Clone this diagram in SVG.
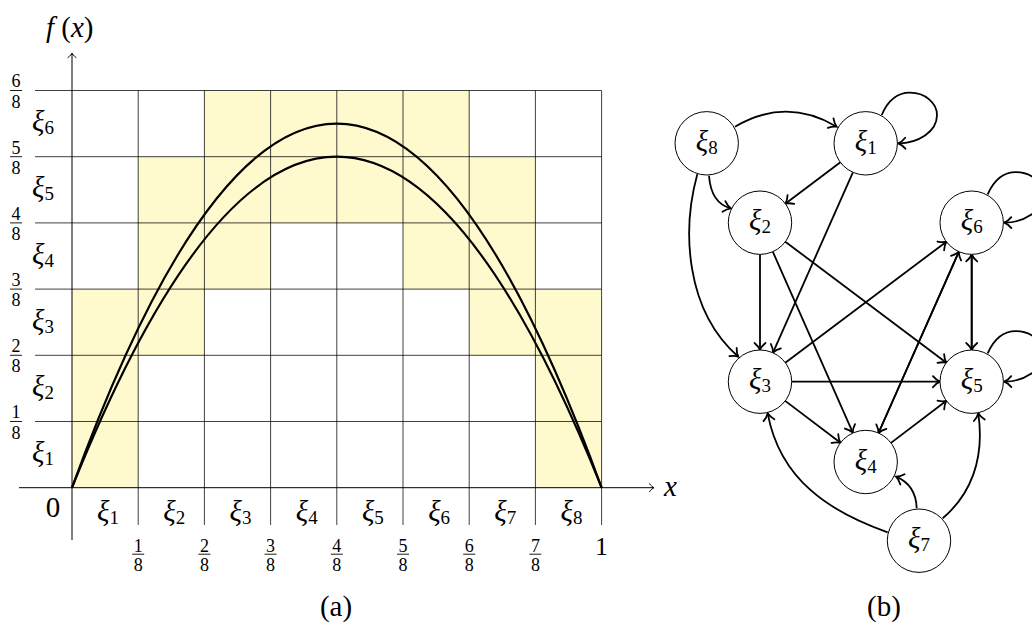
<svg xmlns="http://www.w3.org/2000/svg" width="1032" height="624" viewBox="0 0 1032 624">
<style>
text{font-family:"Liberation Serif","DejaVu Serif",serif;fill:#000}
.it{font-style:italic}
.m{font-size:29px}
.s{font-size:19px;font-style:normal}
.fr{font-size:18px;text-anchor:middle}
.cell{fill:#fffacd;stroke:none}
.grid{stroke:#000;stroke-opacity:0.75;stroke-width:1;fill:none}
.ax{stroke:#000;stroke-width:1;fill:none}
.curve{stroke:#000;stroke-width:2.2;fill:none;stroke-linejoin:round}
.bar{stroke:#000;stroke-width:0.9}
.node circle{fill:#fff;stroke:#000;stroke-width:1}
.node text{text-anchor:middle}
.e{stroke:#000;stroke-width:1.8;fill:none;marker-end:url(#ar)}
</style>
<defs>
<marker id="ar" viewBox="-10 -8 12 16" refX="0" refY="0" markerWidth="12" markerHeight="16" markerUnits="userSpaceOnUse" orient="auto">
<path d="M-7,-5.5 C-4.5,-2.5 -1.5,-0.6 0,0 C-1.5,0.6 -4.5,2.5 -7,5.5" fill="none" stroke="#000" stroke-width="1.8" stroke-linecap="round"/>
</marker>
<marker id="axar" viewBox="-6 -5 8 10" refX="0" refY="0" markerWidth="8" markerHeight="10" markerUnits="userSpaceOnUse" orient="auto">
<path d="M-4.5,-4 C-3,-1.8 -1,-0.4 0,0 C-1,0.4 -3,1.8 -4.5,4" fill="none" stroke="#000" stroke-width="1" stroke-linecap="round"/>
</marker>
</defs>

<g id="plot-a">
<g id="cells">
<rect class="cell" x="72" y="289.1" width="66.2" height="198.6"/>
<rect class="cell" x="138.2" y="156.7" width="66.2" height="198.6"/>
<rect class="cell" x="204.4" y="90.5" width="66.2" height="198.6"/>
<rect class="cell" x="270.6" y="90.5" width="66.2" height="132.4"/>
<rect class="cell" x="336.8" y="90.5" width="66.2" height="132.4"/>
<rect class="cell" x="403" y="90.5" width="66.2" height="198.6"/>
<rect class="cell" x="469.2" y="156.7" width="66.2" height="198.6"/>
<rect class="cell" x="535.4" y="289.1" width="66.2" height="198.6"/>
</g>
<g id="grid">
<path class="grid" d="M35,421.5H601.6M35,355.3H601.6M35,289.1H601.6M35,222.9H601.6M35,156.7H601.6M35,90.5H601.6"/>
<path class="grid" d="M138.2,90.5V525M204.4,90.5V525M270.6,90.5V525M336.8,90.5V525M403,90.5V525M469.2,90.5V525M535.4,90.5V525M601.6,90.5V525"/>
</g>
<g id="axes">
<path class="ax" d="M19,487.7H654" marker-end="url(#axar)"/>
<path class="ax" d="M72,540V53" marker-end="url(#axar)"/>
</g>
<g id="curves">
<path class="curve" d="M72,487.7 Q336.8,-174.3 601.6,487.7"/>
<path class="curve" d="M72,487.7 Q336.8,-240.5 601.6,487.7"/>
</g>
<g id="axis-labels">
<text class="m it" x="46" y="37">f<tspan font-style="normal"> (</tspan>x<tspan font-style="normal">)</tspan></text>
<text class="m it" x="664" y="496">x</text>
<text class="m" x="53" y="517" text-anchor="middle">0</text>
<text x="601.6" y="555" font-size="25" text-anchor="middle">1</text>
</g>
<g id="y-fractions">
<text class="fr" x="16" y="418.3">1</text><line class="bar" x1="10" x2="22" y1="421.5" y2="421.5"/><text class="fr" x="16" y="438.5">8</text>
<text class="fr" x="16" y="352.1">2</text><line class="bar" x1="10" x2="22" y1="355.3" y2="355.3"/><text class="fr" x="16" y="372.3">8</text>
<text class="fr" x="16" y="285.9">3</text><line class="bar" x1="10" x2="22" y1="289.1" y2="289.1"/><text class="fr" x="16" y="306.1">8</text>
<text class="fr" x="16" y="219.7">4</text><line class="bar" x1="10" x2="22" y1="222.9" y2="222.9"/><text class="fr" x="16" y="239.9">8</text>
<text class="fr" x="16" y="153.5">5</text><line class="bar" x1="10" x2="22" y1="156.7" y2="156.7"/><text class="fr" x="16" y="173.7">8</text>
<text class="fr" x="16" y="87.3">6</text><line class="bar" x1="10" x2="22" y1="90.5" y2="90.5"/><text class="fr" x="16" y="107.5">8</text>
</g>
<g id="x-fractions">
<text class="fr" x="138.2" y="551.7">1</text><line class="bar" x1="132.2" x2="144.2" y1="554.2" y2="554.2"/><text class="fr" x="138.2" y="570.5">8</text>
<text class="fr" x="204.4" y="551.7">2</text><line class="bar" x1="198.4" x2="210.4" y1="554.2" y2="554.2"/><text class="fr" x="204.4" y="570.5">8</text>
<text class="fr" x="270.6" y="551.7">3</text><line class="bar" x1="264.6" x2="276.6" y1="554.2" y2="554.2"/><text class="fr" x="270.6" y="570.5">8</text>
<text class="fr" x="336.8" y="551.7">4</text><line class="bar" x1="330.8" x2="342.8" y1="554.2" y2="554.2"/><text class="fr" x="336.8" y="570.5">8</text>
<text class="fr" x="403" y="551.7">5</text><line class="bar" x1="397" x2="409" y1="554.2" y2="554.2"/><text class="fr" x="403" y="570.5">8</text>
<text class="fr" x="469.2" y="551.7">6</text><line class="bar" x1="463.2" x2="475.2" y1="554.2" y2="554.2"/><text class="fr" x="469.2" y="570.5">8</text>
<text class="fr" x="535.4" y="551.7">7</text><line class="bar" x1="529.4" x2="541.4" y1="554.2" y2="554.2"/><text class="fr" x="535.4" y="570.5">8</text>
</g>
<g id="y-xi">
<text class="m it" x="32" y="462">ξ<tspan class="s" dy="3">1</tspan></text>
<text class="m it" x="32" y="396">ξ<tspan class="s" dy="3">2</tspan></text>
<text class="m it" x="32" y="330">ξ<tspan class="s" dy="3">3</tspan></text>
<text class="m it" x="32" y="264">ξ<tspan class="s" dy="3">4</tspan></text>
<text class="m it" x="32" y="197">ξ<tspan class="s" dy="3">5</tspan></text>
<text class="m it" x="32" y="131">ξ<tspan class="s" dy="3">6</tspan></text>
</g>
<g id="x-xi" text-anchor="middle">
<text class="m it" x="108" y="521">ξ<tspan class="s" dy="3">1</tspan></text>
<text class="m it" x="174.3" y="521">ξ<tspan class="s" dy="3">2</tspan></text>
<text class="m it" x="240.5" y="521">ξ<tspan class="s" dy="3">3</tspan></text>
<text class="m it" x="306.7" y="521">ξ<tspan class="s" dy="3">4</tspan></text>
<text class="m it" x="372.9" y="521">ξ<tspan class="s" dy="3">5</tspan></text>
<text class="m it" x="439.1" y="521">ξ<tspan class="s" dy="3">6</tspan></text>
<text class="m it" x="505.3" y="521">ξ<tspan class="s" dy="3">7</tspan></text>
<text class="m it" x="571.5" y="521">ξ<tspan class="s" dy="3">8</tspan></text>
</g>
<text class="m" x="336" y="616" text-anchor="middle">(a)</text>
</g>

<g id="connectors">
<path class="e" d="M735,126.7 Q786,96.7 836.7,126.7"/>
<path class="e" d="M881.7,115 C889,98 899,92.7 910,92.7 C925,92.7 937,103 937,115 C937,132 918,143 898.3,143.3"/>
<path class="e" d="M709,175.7 Q711,203 730.7,208.3"/>
<path class="e" d="M697.3,174.3 C682,230 685,310 738.3,356.7"/>
<path class="e" d="M840.4,162.3 L785.3,203.7"/>
<path class="e" d="M852.9,172.3 L773,352.6"/>
<path class="e" d="M760,254.4 L760,350"/>
<path class="e" d="M772.8,251.7 L852.8,432.7"/>
<path class="e" d="M785.3,241.7 L946.4,362.7"/>
<path class="e" d="M987.7,194.4 C995,177.4 1005,172.1 1016,172.1 C1031,172.1 1043,182.4 1043,194.4 C1043,211.4 1024,222.4 1004.3,222.7"/>
<path class="e" d="M785.3,362.7 L946.4,241.7"/>
<path class="e" d="M878.5,433 L958.9,251.7"/>
<path class="e" d="M958.9,251.7 L878.5,433"/>
<path class="e" d="M971.7,254.4 L971.7,350"/>
<path class="e" d="M971.7,350 L971.7,254.4"/>
<path class="e" d="M791.7,381.7 L940,381.7"/>
<path class="e" d="M785.2,400.9 L840.5,442.8"/>
<path class="e" d="M891,442.9 L946.4,400.8"/>
<path class="e" d="M987.7,353.4 C995,336.4 1005,331.1 1016,331.1 C1031,331.1 1043,341.4 1043,353.4 C1043,370.4 1024,381.4 1004.3,381.7"/>
<path class="e" d="M887.7,532.3 C830,512 780,480 767.7,413.3"/>
<path class="e" d="M916.7,508.3 Q916,485 896,476.7"/>
<path class="e" d="M942.7,518.3 C970,495 985,460 978.3,413.3"/>
</g>

<g id="n1" class="node"><circle cx="865.7" cy="143.3" r="31.7"/><text class="m it" x="865.7" y="151">ξ<tspan class="s" dy="3">1</tspan></text></g>
<g id="n2" class="node"><circle cx="760" cy="222.7" r="31.7"/><text class="m it" x="760" y="230.4">ξ<tspan class="s" dy="3">2</tspan></text></g>
<g id="n3" class="node"><circle cx="760" cy="381.7" r="31.7"/><text class="m it" x="760" y="389.4">ξ<tspan class="s" dy="3">3</tspan></text></g>
<g id="n4" class="node"><circle cx="865.7" cy="462" r="31.7"/><text class="m it" x="865.7" y="469.7">ξ<tspan class="s" dy="3">4</tspan></text></g>
<g id="n5" class="node"><circle cx="971.7" cy="381.7" r="31.7"/><text class="m it" x="971.7" y="389.4">ξ<tspan class="s" dy="3">5</tspan></text></g>
<g id="n6" class="node"><circle cx="971.7" cy="222.7" r="31.7"/><text class="m it" x="971.7" y="230.4">ξ<tspan class="s" dy="3">6</tspan></text></g>
<g id="n7" class="node"><circle cx="919" cy="540.7" r="31.7"/><text class="m it" x="919" y="548.4">ξ<tspan class="s" dy="3">7</tspan></text></g>
<g id="n8" class="node"><circle cx="706.7" cy="143.3" r="31.7"/><text class="m it" x="706.7" y="151">ξ<tspan class="s" dy="3">8</tspan></text></g>

<text class="m" x="884" y="616" text-anchor="middle">(b)</text>
</svg>
